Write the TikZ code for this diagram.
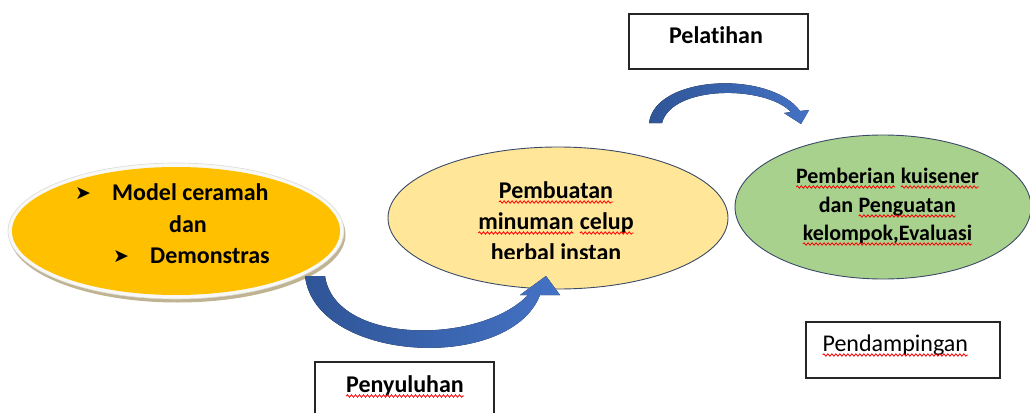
\documentclass[tikz,border=0pt]{standalone}
\usepackage{fontspec}
\setmainfont[Ligatures={NoCommon}]{Carlito}
\newfontfamily\symfont{DejaVu Sans}
\usetikzlibrary{shapes.geometric,decorations.pathmorphing}
\newcommand\redwave[1]{\tikz[baseline=(wv.base)]{\node[inner sep=0pt,outer sep=0pt,anchor=base] (wv) {#1};
  \draw[red, line width=0.8pt, decorate, decoration={snake, amplitude=1.2pt, segment length=4pt}] ([yshift=-4pt]wv.base west) -- ([yshift=-4pt]wv.base east);}}
\definecolor{orangefill}{HTML}{FFC000}
\definecolor{yellowfill}{HTML}{FFE699}
\definecolor{greenfill}{HTML}{A9D18E}
\definecolor{ringcol}{HTML}{F8F8F6}
\definecolor{ringedge}{HTML}{DADAD6}
\definecolor{bevel}{HTML}{BFB391}
\definecolor{ovaledge}{HTML}{3B4A66}
\definecolor{arrowdark}{HTML}{2F5597}
\definecolor{arrowlight}{HTML}{4472C4}
\tikzset{
  oval/.style={ellipse, inner sep=0pt, draw=ovaledge, line width=0.9pt},
  labelbox/.style={draw=black!85, line width=1.1pt, fill=white, inner sep=0pt},
  bodytext/.style={font=\bfseries\fontsize{24}{30}\selectfont, inner sep=0pt},
  righttxt/.style={font=\bfseries\fontsize{22}{28}\selectfont, inner sep=0pt, anchor=base},
  boxtext/.style={font=\bfseries\fontsize{24}{28}\selectfont, inner sep=0pt},
  bullet/.style={font=\symfont\fontsize{19}{19}\selectfont, inner sep=0pt, anchor=base west},
  blockarrow/.style={left color=arrowdark, right color=arrowlight, draw=none},
}
\begin{document}
\begin{tikzpicture}[x=1pt,y=-1pt]
\useasboundingbox (0,0) rectangle (1030,412);
\clip (0,0) rectangle (1030,412);
% left ellipse with ring
\node[ellipse, fill=bevel, minimum width=336, minimum height=136, inner sep=0pt] (shadow) at (177.5,234.5) {};
\node[ellipse, fill=ringcol, draw=ringedge, line width=0.6pt, minimum width=336, minimum height=136, inner sep=0pt] (ring) at (176,231) {};
\node[ellipse, fill=orangefill, minimum width=328, minimum height=128, inner sep=0pt] (left) at (176,231) {};
\node[bullet] (b1) at (75,199) {➤};
\node[bodytext, anchor=base west] (t1) at (112,200) {Model ceramah};
\node[bodytext, anchor=base] (t2) at (188,232) {dan};
\node[bullet] (b2) at (113,262) {➤};
\node[bodytext, anchor=base west] (t3) at (150,263) {Demonstras};
% middle ellipse
\node[oval, fill=yellowfill, minimum width=340, minimum height=142] (mid) at (558,218) {};
\node[bodytext, anchor=base] (m1) at (556,198) {\redwave{Pembuatan}};
\node[bodytext, anchor=base] (m2) at (556,229) {\redwave{minuman} \redwave{celup}};
\begin{scope}
\clip (440,230) rectangle (680,258);
\node[bodytext, anchor=base] (m3) at (556,260) {herbal instan};
\end{scope}
% right ellipse
\node[oval, fill=greenfill, minimum width=296, minimum height=144] (right) at (883,207) {};
\node[righttxt] (r1) at (887.5,183) {\redwave{Pemberian} \redwave{kuisener}};
\node[righttxt] (r2) at (887.5,212) {dan \redwave{Penguatan}};
\node[righttxt] (r3) at (887.5,240) {\redwave{kelompok,Evaluasi}};
% arrows
\fill[blockarrow] (305,276) .. controls (315,363) and (510,373) .. (540,295)
  -- (560,295) -- (546,276) -- (520,295) -- (528,295)
  .. controls (480,345) and (335,345) .. (325,276) -- cycle;
\fill[blockarrow] (649,123) .. controls (655,75) and (770,70) .. (800,111)
  -- (809,110) -- (801,124) -- (784,113) -- (791,112)
  .. controls (765,85) and (672,85) .. (662,123) -- cycle;
% boxes
\node[labelbox, minimum width=179, minimum height=55] (pelbox) at (718.5,41.5) {};
\node[boxtext, anchor=base] (pel) at (716,44) {Pelatihan};
\node[labelbox, minimum width=179, minimum height=60] (penbox) at (404.5,392) {};
\node[boxtext, anchor=base] (pen) at (405,392) {\redwave{Penyuluhan}};
\node[labelbox, minimum width=194, minimum height=56] (pdbox) at (903,350) {};
\node[boxtext, font=\fontsize{24}{28}\selectfont, anchor=base west] (pd) at (822,351) {\redwave{Pendampingan}};
\end{tikzpicture}
\end{document}
